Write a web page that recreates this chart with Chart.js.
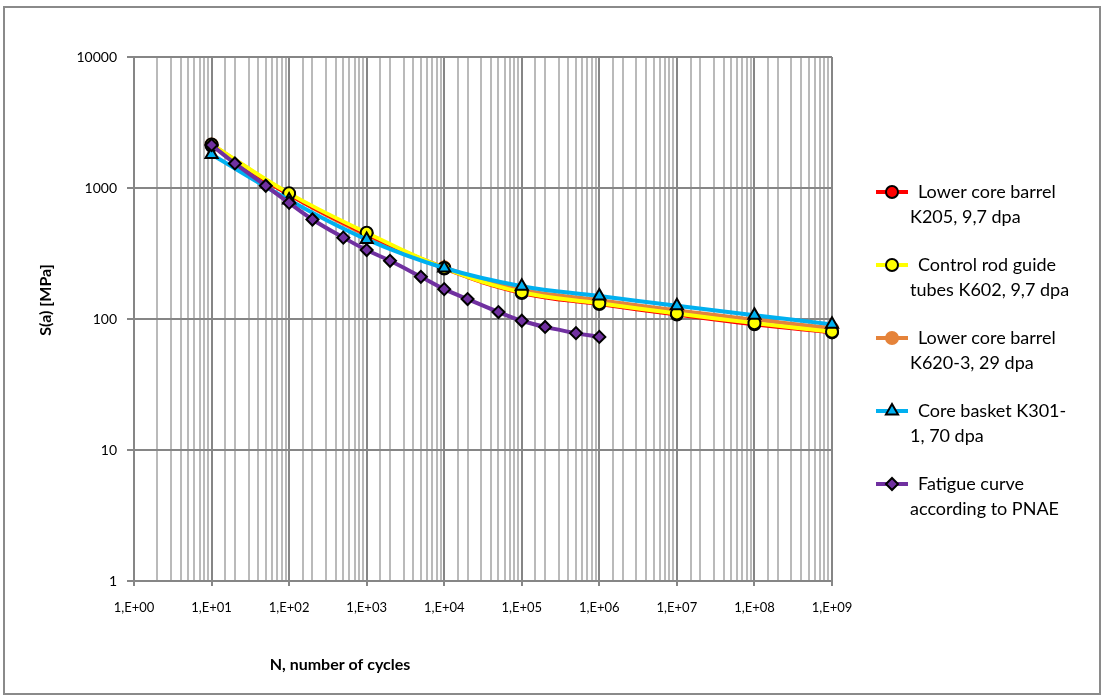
<!DOCTYPE html>
<html>
<head>
<meta charset="utf-8">
<title>S-N curves</title>
<script src="https://cdn.jsdelivr.net/npm/chart.js@4/dist/chart.umd.min.js"></script>
<style>
  html, body { margin: 0; padding: 0; background: #fff; }
  #wrap { width: 1105px; height: 698px; position: relative; }
</style>
</head>
<body>
<div id="wrap"><canvas id="snChart" width="1105" height="698"></canvas></div>
<script>
// number of cycles
const cycles = [1e1, 1e2, 1e3, 1e4, 1e5, 1e6, 1e7, 1e8, 1e9];
const cyclesPnae = [10, 20, 50, 100, 200, 500, 1e3, 2e3, 5e3, 1e4, 2e4, 5e4, 1e5, 2e5, 5e5, 1e6];

// stress amplitude S(a), MPa
const k205 = [2100, 890, 445, 243, 158, 130, 108, 91, 79];
const k602 = [2150, 910, 455, 245, 160, 132, 110, 93, 80];
const k620 = [2150, 890, 435, 248, 167, 139, 116, 99, 85];
const k301 = [1800, 810, 405, 245, 178, 150, 126, 107, 91];
const pnae = [2130, 1540, 1040, 770, 575, 418, 336, 278, 210, 169, 142, 113, 97, 87, 78, 73];

const legendLines = [
    ["Lower core barrel", "K205, 9,7 dpa"],
    ["Control rod guide", "tubes K602, 9,7 dpa"],
    ["Lower core barrel", "K620-3, 29 dpa"],
    ["Core basket K301-", "1, 70 dpa"],
    ["Fatigue curve", "according to PNAE"]
];

const yTickValues = [1, 10, 100, 1000, 10000];

const toPoints = (xs, ys) => xs.map((x, i) => ({ x: x, y: ys[i] }));
const isPow10 = v => Math.abs(Math.log10(v) - Math.round(Math.log10(v))) < 1e-9;

function series(label, xs, ys, color, style, fill, border, order) {
    return {
        label: label,
        data: toPoints(xs, ys),
        borderColor: color,
        backgroundColor: color,
        borderWidth: 4,
        tension: 0.4,
        pointStyle: style,
        pointRadius: style === "triangle" ? 7 : 6,
        pointBackgroundColor: fill,
        pointBorderColor: border,
        pointBorderWidth: 2,
        clip: false,
        order: order
    };
}

const gridMajor = "#868686";
const gridMinor = "#bababa";

// frame round the whole picture + axis titles
const framePlugin = {
    id: "frame",
    beforeDraw(chart) {
        const c = chart.ctx;
        c.save();
        c.fillStyle = "#fff";
        c.fillRect(0, 0, chart.width, chart.height);
        c.strokeStyle = "#8a8a8a";
        c.lineWidth = 2;
        c.strokeRect(4, 7, 1096, 687);
        c.restore();
    },
    afterDraw(chart) {
        const c = chart.ctx;
        c.save();
        c.fillStyle = "#000";
        c.font = "bold 16px Lato, sans-serif";
        c.textAlign = "center";
        c.textBaseline = "middle";
        c.fillText("N, number of cycles", 340, 665);
        c.translate(46, 300);
        c.rotate(-Math.PI / 2);
        c.fillText("S(a) [MPa]", 0, 0);
        c.restore();
    }
};

// legend on the right, two lines per entry
const sideLegend = {
    id: "sideLegend",
    afterDraw(chart) {
        const c = chart.ctx;
        const ds = chart.data.datasets;
        c.save();
        c.font = "18px Lato, sans-serif";
        c.textBaseline = "middle";
        c.fillStyle = "#000";
        ds.forEach((d, i) => {
            const y = 192 + i * 73;
            c.strokeStyle = d.borderColor;
            c.lineWidth = 4;
            c.beginPath();
            c.moveTo(876, y);
            c.lineTo(908, y);
            c.stroke();
            c.fillStyle = d.pointBackgroundColor;
            c.strokeStyle = d.pointBorderColor;
            c.lineWidth = 2;
            Chart.helpers.drawPoint(c, {
                pointStyle: d.pointStyle,
                radius: d.pointRadius,
                rotation: 0,
                borderWidth: 2
            }, 892, y);
            c.fillStyle = "#000";
            c.fillText(legendLines[i][0], 918, y);
            c.fillText(legendLines[i][1], 910, y + 25);
        });
        c.restore();
    }
};

new Chart(document.getElementById("snChart"), {
    type: "line",
    data: {
        datasets: [
            series("Lower core barrel K205, 9,7 dpa", cycles, k205, "#ff0000", "circle", "#ff0000", "#000", 5),
            series("Control rod guide tubes K602, 9,7 dpa", cycles, k602, "#ffff00", "circle", "#ffff00", "#000", 4),
            series("Lower core barrel K620-3, 29 dpa", cycles, k620, "#e5833a", "circle", "#e5833a", "#e5833a", 6),
            series("Core basket K301-1, 70 dpa", cycles, k301, "#00b0f0", "triangle", "#00b0f0", "#000", 2),
            series("Fatigue curve according to PNAE", cyclesPnae, pnae, "#7030a0", "rectRot", "#7030a0", "#000", 1)
        ]
    },
    options: {
        responsive: false,
        animation: false,
        devicePixelRatio: 1,
        layout: { padding: { left: 0, top: 57, right: 273, bottom: 0 } },
        plugins: {
            legend: { display: false },
            tooltip: { enabled: false }
        },
        scales: {
            x: {
                type: "logarithmic",
                min: 1,
                max: 1e9,
                afterFit: s => { s.height = 117; },
                border: { color: gridMajor, width: 2 },
                grid: {
                    lineWidth: 2,
                    tickLength: 5,
                    color: ctx => isPow10(ctx.tick.value) ? gridMajor : gridMinor,
                    tickColor: ctx => isPow10(ctx.tick.value) ? gridMajor : "rgba(0,0,0,0)"
                },
                ticks: {
                    autoSkip: false,
                    maxRotation: 0,
                    padding: 14,
                    color: "#000",
                    font: { family: "Lato, sans-serif", size: 13 },
                    callback: v => isPow10(v) ? "1,E+" + String(Math.round(Math.log10(v))).padStart(2, "0") : ""
                }
            },
            y: {
                type: "logarithmic",
                min: 1,
                max: 10000,
                afterFit: s => { s.width = 134; },
                border: { color: gridMajor, width: 2 },
                grid: {
                    lineWidth: 2,
                    tickLength: 7,
                    color: ctx => isPow10(ctx.tick.value) ? gridMajor : "rgba(0,0,0,0)",
                    tickColor: ctx => isPow10(ctx.tick.value) ? gridMajor : "rgba(0,0,0,0)"
                },
                ticks: {
                    autoSkip: false,
                    padding: 10,
                    color: "#000",
                    font: { family: "Lato, sans-serif", size: 14 },
                    callback: v => yTickValues.includes(Math.round(v)) && isPow10(v) ? String(Math.round(v)) : ""
                }
            }
        }
    },
    plugins: [framePlugin, sideLegend]
});
</script>
</body>
</html>
